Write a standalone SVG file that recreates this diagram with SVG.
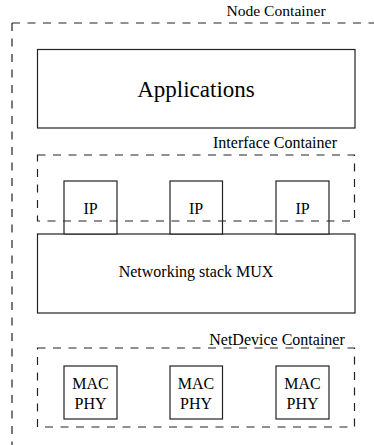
<svg xmlns="http://www.w3.org/2000/svg" width="374" height="445" viewBox="0 0 374 445">
<style>
.box{fill:#fff;stroke:#222;stroke-width:1.2}
.dash{fill:none;stroke:#222;stroke-width:1.2;stroke-dasharray:8 7.5}
</style>
<rect width="374" height="445" fill="#fff"/>
<g font-family="Liberation Serif, 'Times New Roman', serif" font-size="16" fill="#000" text-anchor="middle">
<g id="node-container">
<path class="dash" d="M12,23 H380 M12,23 V460"/>
<text x="276" y="16" font-size="15.6">Node Container</text>
</g>
<g id="applications">
<rect class="box" x="37.5" y="49.5" width="317.5" height="78.5"/>
<text x="196" y="97" font-size="23">Applications</text>
</g>
<g id="networking-stack">
<rect class="box" x="37.5" y="234" width="317.5" height="79"/>
<text x="196" y="277">Networking stack MUX</text>
</g>
<g id="ip1"><rect class="box" x="64" y="181" width="53" height="53"/><text x="90.5" y="214">IP</text></g>
<g id="ip2"><rect class="box" x="170" y="181" width="52.5" height="53"/><text x="196" y="214">IP</text></g>
<g id="ip3"><rect class="box" x="276" y="181" width="53" height="53"/><text x="302.5" y="214">IP</text></g>
<g id="interface-container">
<rect class="dash" x="37.5" y="155" width="317" height="66"/>
<text x="275" y="148">Interface Container</text>
</g>
<g id="netdevice-container">
<rect class="dash" x="37.5" y="348" width="317" height="79"/>
<text x="277" y="345">NetDevice Container</text>
</g>
<g id="dev1"><rect class="box" x="64" y="366" width="53" height="53"/><text x="90.5" y="389">MAC</text><text x="90.5" y="409">PHY</text></g>
<g id="dev2"><rect class="box" x="170" y="366" width="52.5" height="53"/><text x="196" y="389">MAC</text><text x="196" y="409">PHY</text></g>
<g id="dev3"><rect class="box" x="276" y="366" width="53" height="53"/><text x="302.5" y="389">MAC</text><text x="302.5" y="409">PHY</text></g>
</g>
<g id="connectors"></g>
</svg>
